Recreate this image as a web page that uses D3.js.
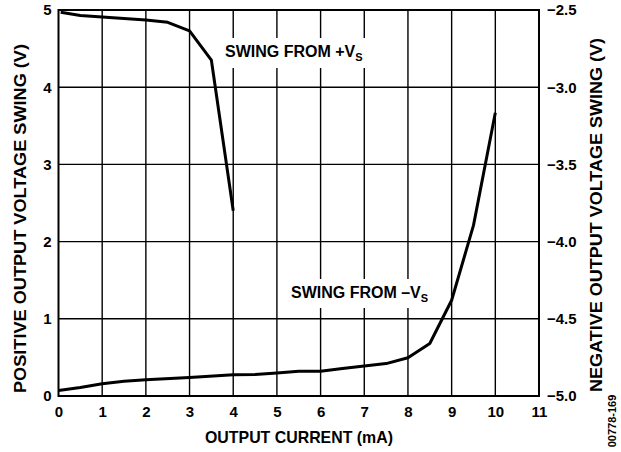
<!DOCTYPE html>
<html><head><meta charset="utf-8">
<script src="https://cdn.jsdelivr.net/npm/d3@7"></script>
<style>body{margin:0;background:#fff}svg{display:block}text{font-family:"Liberation Sans",Arial,sans-serif;font-weight:bold;fill:#000}</style>
</head><body><svg id="c" width="621" height="452"></svg>
<script>
// Data
const xTicks = [0,1,2,3,4,5,6,7,8,9,10,11];
const leftTicks = [0,1,2,3,4,5];
const rightTicks = [-5.0,-4.5,-4.0,-3.5,-3.0,-2.5];
const posCurrent = [0.05,0.5,1,1.5,2,2.5,3,3.5,4];
const posSwing   = [4.97,4.93,4.91,4.89,4.87,4.84,4.73,4.35,2.40];
const negCurrent = [0,0.5,1,1.5,2,3,4,4.5,5,5.5,6,6.5,7,7.5,8,8.5,9,9.5,10];
const negSwing   = [-4.965,-4.945,-4.92,-4.905,-4.895,-4.88,-4.862,-4.86,-4.851,-4.84,-4.84,-4.822,-4.805,-4.79,-4.752,-4.66,-4.38,-3.895,-3.165];

const svg = d3.select("#c");
const L=58.5, R=539, T=10, B=396;
const x = d3.scaleLinear().domain([0,11]).range([L,R]);
const yL = d3.scaleLinear().domain([0,5]).range([B,T]);
const yR = d3.scaleLinear().domain([-5,-2.5]).range([B,T]);

const g = svg.append("g");
// grid
g.selectAll(".vg").data(xTicks.slice(1,-1)).enter().append("line")
 .attr("x1",d=>x(d)).attr("x2",d=>x(d)).attr("y1",T).attr("y2",B)
 .attr("stroke","#000").attr("stroke-width",1.4);
g.selectAll(".hg").data(leftTicks.slice(1,-1)).enter().append("line")
 .attr("y1",d=>yL(d)).attr("y2",d=>yL(d)).attr("x1",L).attr("x2",R)
 .attr("stroke","#000").attr("stroke-width",1.4);

// label backgrounds (knock out grid)
g.append("rect").attr("x",221).attr("y",38).attr("width",147).attr("height",30).attr("fill","#fff");
g.append("rect").attr("x",286).attr("y",279).attr("width",148).attr("height",29).attr("fill","#fff");

// frame
g.append("rect").attr("x",L).attr("y",T).attr("width",R-L).attr("height",B-T)
 .attr("fill","none").attr("stroke","#000").attr("stroke-width",2);

// curves
const linePos = d3.line().x((d,i)=>x(posCurrent[i])).y(d=>yL(d));
const lineNeg = d3.line().x((d,i)=>x(negCurrent[i])).y(d=>yR(d));
g.append("path").attr("d",linePos(posSwing)).attr("fill","none").attr("stroke","#000").attr("stroke-width",3).attr("stroke-linejoin","round");
g.append("path").attr("d",lineNeg(negSwing)).attr("fill","none").attr("stroke","#000").attr("stroke-width",3).attr("stroke-linejoin","round");

// axes tick labels
const fs = 15;
const axB = d3.axisBottom(x).tickValues(xTicks).tickSize(0).tickPadding(10).tickFormat(d3.format("d"));
const gb = svg.append("g").attr("transform",`translate(0,${B})`).call(axB);
const axL = d3.axisLeft(yL).tickValues(leftTicks).tickSize(0).tickPadding(7).tickFormat(d3.format("d"));
const gl = svg.append("g").attr("transform",`translate(${L},0)`).call(axL);
const axR = d3.axisRight(yR).tickValues(rightTicks).tickSize(0).tickPadding(8).tickFormat(d=>d3.format(".1f")(d).replace("-","\u2013"));
const gr = svg.append("g").attr("transform",`translate(${R},0)`).call(axR);
[gb,gl,gr].forEach(a=>{a.select(".domain").remove();a.selectAll("text").attr("font-size",fs).attr("font-family","Liberation Sans, Arial, sans-serif").attr("font-weight","bold").attr("fill","#000");});

// titles
svg.append("text").attr("x",299).attr("y",443).attr("text-anchor","middle").attr("font-size",17)
 .attr("textLength",188).attr("lengthAdjust","spacingAndGlyphs").text("OUTPUT CURRENT (mA)");
svg.append("text").attr("transform",`translate(26,218.5) rotate(-90)`).attr("text-anchor","middle").attr("font-size",16.5)
 .attr("textLength",349).attr("lengthAdjust","spacingAndGlyphs").text("POSITIVE OUTPUT VOLTAGE SWING (V)");
svg.append("text").attr("transform",`translate(602,215) rotate(-90)`).attr("text-anchor","middle").attr("font-size",16.5)
 .attr("textLength",354).attr("lengthAdjust","spacingAndGlyphs").text("NEGATIVE OUTPUT VOLTAGE SWING (V)");
svg.append("text").attr("transform",`translate(615.5,421) rotate(-90)`).attr("text-anchor","middle").attr("font-size",11).attr("font-weight","normal").text("00778-169");

// annotations
const t1 = svg.append("text").attr("x",225).attr("y",57).attr("font-size",16);
t1.append("tspan").text("SWING FROM +V");
t1.append("tspan").attr("dy",4).attr("font-size",11).text("S");
const t2 = svg.append("text").attr("x",291).attr("y",298).attr("font-size",16);
t2.append("tspan").text("SWING FROM \u2013V");
t2.append("tspan").attr("dy",4).attr("font-size",11).text("S");
</script></body></html>
